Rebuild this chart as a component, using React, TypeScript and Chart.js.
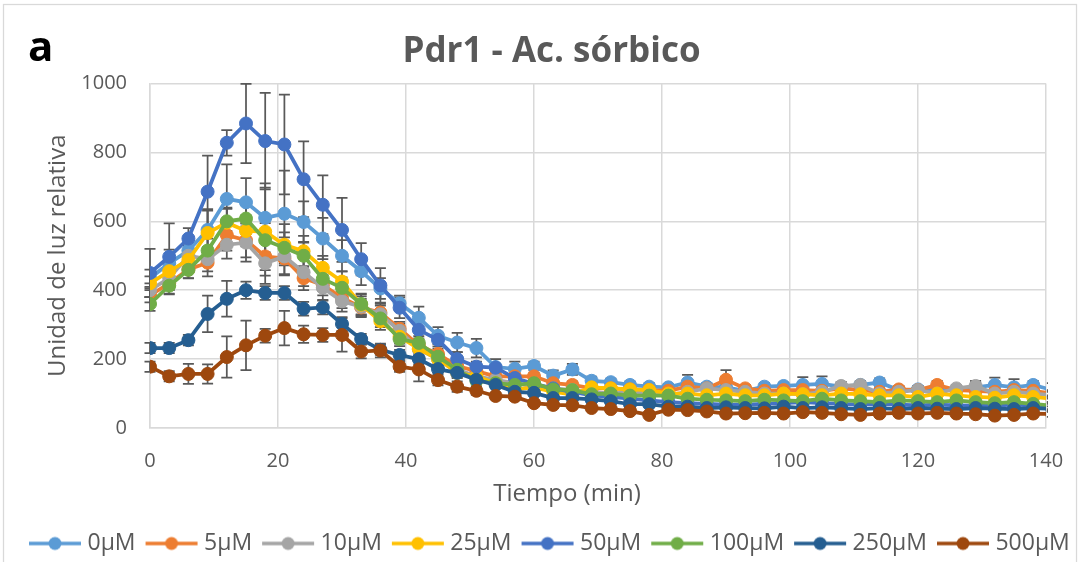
import React, { useEffect, useRef } from "react";
import { Chart, registerables } from "chart.js";

Chart.register(...registerables);

const FONT = "'Open Sans', 'Liberation Sans', sans-serif";
const TEXT = "#595959";
const GRID = "#D9D9D9";

const chartTitle = "Pdr1 - Ac. sórbico";
const panelLetter = "a";
const xTitle = "Tiempo (min)";
const yTitle = "Unidad de luz relativa";

const times = [0, 3, 6, 9, 12, 15, 18, 21, 24, 27, 30, 33, 36, 39, 42, 45, 48, 51, 54, 57, 60, 63, 66, 69, 72, 75, 78, 81, 84, 87, 90, 93, 96, 99, 102, 105, 108, 111, 114, 117, 120, 123, 126, 129, 132, 135, 138, 141];

const seriesLabels = ["0µM", "5µM", "10µM", "25µM", "50µM", "100µM", "250µM", "500µM"];
const seriesColors = ["#5B9BD5", "#ED7D31", "#A5A5A5", "#FFC000", "#4472C4", "#70AD47", "#255E91", "#9E480E"];

const v0 = [435, 478, 515, 575, 665, 655, 610, 622, 598, 550, 500, 455, 405, 362, 320, 268, 248, 232, 177, 172, 180, 152, 170, 137, 133, 125, 120, 118, 132, 120, 118, 108, 120, 122, 125, 128, 120, 125, 132, 110, 112, 110, 110, 118, 125, 118, 125, 110];
const e0 = [25, 40, 30, 60, 100, 70, 100, 125, 60, 60, 45, 40, 30, 22, 32, 25, 28, 27, 23, 21, 13, 15, 16, 12, 10, 10, 10, 10, 22, 10, 10, 10, 10, 10, 23, 22, 10, 10, 12, 10, 10, 10, 10, 15, 21, 24, 12, 20];

const v5 = [385, 420, 460, 480, 560, 545, 498, 492, 435, 415, 378, 350, 335, 288, 240, 215, 180, 165, 150, 150, 150, 130, 125, 115, 115, 112, 110, 108, 120, 115, 140, 115, 108, 110, 110, 108, 115, 110, 105, 112, 110, 125, 110, 108, 105, 110, 108, 100];
const e5 = [20, 30, 25, 40, 45, 50, 40, 45, 35, 30, 30, 25, 25, 20, 20, 15, 15, 12, 12, 10, 10, 10, 10, 10, 10, 10, 10, 10, 10, 10, 28, 10, 10, 10, 10, 10, 10, 10, 10, 10, 10, 12, 10, 10, 10, 10, 10, 10];

const v10 = [400, 435, 500, 490, 532, 538, 478, 498, 452, 407, 368, 352, 330, 282, 228, 200, 170, 150, 140, 130, 120, 115, 110, 105, 100, 105, 100, 95, 105, 115, 110, 105, 100, 100, 98, 105, 122, 125, 100, 105, 110, 100, 115, 122, 100, 105, 100, 95];
const e10 = [20, 30, 30, 35, 40, 55, 60, 55, 40, 35, 30, 30, 25, 20, 20, 15, 15, 12, 12, 10, 10, 10, 10, 10, 10, 10, 10, 10, 10, 10, 10, 10, 10, 10, 10, 10, 12, 12, 10, 10, 10, 10, 10, 15, 10, 10, 10, 10];

const v25 = [420, 455, 488, 566, 596, 572, 570, 532, 513, 465, 425, 358, 310, 265, 230, 200, 160, 150, 130, 112, 118, 105, 98, 118, 115, 112, 110, 100, 100, 95, 100, 95, 95, 100, 98, 95, 100, 98, 95, 95, 90, 100, 95, 90, 88, 95, 90, 85];
const e25 = [20, 30, 25, 65, 40, 45, 128, 60, 45, 35, 30, 30, 25, 20, 20, 15, 15, 12, 12, 10, 10, 10, 10, 10, 10, 10, 10, 10, 10, 10, 10, 10, 10, 10, 10, 10, 10, 10, 10, 10, 10, 10, 10, 10, 10, 10, 10, 10];

const v50 = [450, 497, 550, 686, 828, 884, 833, 823, 722, 648, 575, 490, 414, 349, 285, 256, 200, 178, 175, 145, 128, 115, 105, 95, 90, 85, 80, 75, 72, 70, 68, 68, 70, 72, 75, 72, 70, 68, 70, 68, 66, 68, 66, 65, 65, 68, 65, 60];
const e50 = [70, 97, 30, 105, 37, 115, 140, 145, 110, 85, 93, 47, 50, 30, 30, 20, 20, 15, 12, 10, 10, 10, 10, 10, 10, 10, 10, 10, 10, 10, 10, 10, 10, 10, 10, 10, 10, 10, 10, 10, 10, 10, 10, 10, 10, 10, 10, 10];

const v100 = [360, 413, 459, 515, 600, 608, 545, 523, 500, 433, 407, 360, 318, 258, 247, 207, 169, 137, 130, 125, 130, 112, 110, 98, 100, 94, 94, 94, 85, 82, 80, 78, 82, 80, 78, 85, 80, 78, 75, 80, 78, 75, 80, 75, 72, 75, 70, 65];
const e100 = [20, 25, 25, 35, 40, 45, 50, 45, 40, 35, 30, 30, 25, 20, 20, 15, 15, 12, 12, 10, 10, 10, 10, 10, 10, 10, 10, 10, 10, 10, 10, 10, 10, 10, 10, 10, 10, 10, 10, 10, 10, 10, 10, 10, 10, 10, 10, 10];

const v250 = [232, 232, 255, 331, 375, 400, 392, 392, 346, 350, 302, 258, 227, 212, 200, 171, 160, 140, 125, 105, 102, 87, 87, 83, 78, 69, 69, 62, 62, 58, 60, 58, 57, 62, 58, 60, 58, 55, 58, 55, 58, 56, 55, 58, 56, 55, 58, 55];
const e250 = [15, 15, 15, 53, 52, 25, 20, 20, 20, 20, 20, 15, 15, 15, 15, 12, 12, 10, 10, 10, 8, 8, 8, 8, 8, 8, 8, 8, 8, 8, 8, 8, 8, 8, 8, 8, 8, 8, 8, 8, 8, 8, 8, 8, 8, 8, 8, 8];

const v500 = [178, 150, 157, 157, 206, 240, 268, 290, 272, 270, 270, 222, 225, 178, 170, 139, 120, 108, 93, 91, 72, 67, 66, 58, 55, 49, 38, 53, 52, 48, 42, 43, 44, 42, 46, 44, 40, 38, 42, 44, 42, 44, 42, 40, 36, 38, 42, 40];
const e500 = [15, 15, 29, 28, 60, 72, 20, 50, 25, 20, 48, 20, 20, 15, 35, 15, 15, 12, 10, 10, 8, 8, 8, 8, 8, 8, 8, 8, 8, 8, 8, 8, 8, 8, 8, 8, 8, 8, 8, 8, 8, 8, 8, 8, 8, 8, 8, 8];

const seriesValues = [v0, v5, v10, v25, v50, v100, v250, v500];
const seriesErrors = [e0, e5, e10, e25, e50, e100, e250, e500];

const xTicks = { min: 0, max: 140, step: 20 };
const yTicks = { min: 0, max: 1000, step: 200 };

// legend geometry: box width W, image width W + 12 with a 54px line at its right end
const LEGEND_PAD = 4;
const LEGEND_BOX = 53;
const LEGEND_IMG = LEGEND_BOX + 12;
const LEGEND_LINE = 54;

function makeLegendImage(color: string): HTMLCanvasElement {
  const c = document.createElement("canvas");
  c.width = LEGEND_IMG;
  c.height = 16;
  const ctx = c.getContext("2d") as CanvasRenderingContext2D;
  const x0 = LEGEND_IMG - LEGEND_LINE;
  ctx.strokeStyle = color;
  ctx.lineWidth = 3.5;
  ctx.beginPath();
  ctx.moveTo(x0 + 1, 8);
  ctx.lineTo(LEGEND_IMG - 1, 8);
  ctx.stroke();
  ctx.fillStyle = color;
  ctx.beginPath();
  ctx.arc(x0 + LEGEND_LINE / 2, 8, 6.5, 0, Math.PI * 2);
  ctx.fill();
  return c;
}

const errorBarPlugin = {
  id: "errorBars",
  beforeDatasetsDraw(chart: any) {
    const { ctx, chartArea, scales } = chart;
    const xs = scales.x;
    const ys = scales.y;
    ctx.save();
    ctx.beginPath();
    ctx.rect(chartArea.left - 8, chartArea.top - 2, chartArea.right - chartArea.left + 10, chartArea.bottom - chartArea.top + 4);
    ctx.clip();
    ctx.strokeStyle = "#595959";
    ctx.lineWidth = 1.75;
    seriesValues.forEach((vals, s) => {
      const errs = seriesErrors[s];
      times.forEach((t, i) => {
        const x = xs.getPixelForValue(t);
        const y1 = ys.getPixelForValue(vals[i] + errs[i]);
        const y2 = ys.getPixelForValue(Math.max(0, vals[i] - errs[i]));
        ctx.beginPath();
        ctx.moveTo(x, y1);
        ctx.lineTo(x, y2);
        ctx.moveTo(x - 5.5, y1);
        ctx.lineTo(x + 5.5, y1);
        ctx.moveTo(x - 5.5, y2);
        ctx.lineTo(x + 5.5, y2);
        ctx.stroke();
      });
    });
    ctx.restore();
  },
};

const decorPlugin = {
  id: "decor",
  beforeDraw(chart: any) {
    const { ctx } = chart;
    ctx.save();
    ctx.fillStyle = "#FFFFFF";
    ctx.fillRect(0, 0, chart.width, chart.height);
    ctx.strokeStyle = GRID;
    ctx.lineWidth = 1.25;
    ctx.strokeRect(3.5, 4.5, 1073, 620);
    ctx.restore();
  },
  afterDraw(chart: any) {
    const { ctx } = chart;
    ctx.save();
    ctx.fillStyle = TEXT;
    ctx.font = `bold 35px ${FONT}`;
    ctx.textAlign = "center";
    ctx.textBaseline = "alphabetic";
    ctx.fillText(chartTitle, 551.5, 62);
    ctx.fillStyle = "#000000";
    ctx.font = `bold 42px ${FONT}`;
    ctx.textAlign = "left";
    ctx.fillText(panelLetter, 28, 61);
    ctx.fillStyle = TEXT;
    ctx.font = `24px ${FONT}`;
    ctx.textAlign = "center";
    ctx.textBaseline = "middle";
    ctx.fillText(xTitle, 567, 494);
    ctx.restore();
  },
};

export default function App() {
  const ref = useRef<HTMLCanvasElement | null>(null);

  useEffect(() => {
    if (!ref.current) return;
    const images = seriesColors.map((c) => makeLegendImage(c));
    const chart = new Chart(ref.current, {
      type: "line",
      data: {
        datasets: seriesLabels.map((label, i) => ({
          label,
          data: times.map((t, j) => ({ x: t, y: seriesValues[i][j] })),
          borderColor: seriesColors[i],
          backgroundColor: seriesColors[i],
          pointBackgroundColor: seriesColors[i],
          pointBorderColor: seriesColors[i],
          borderWidth: 3.75,
          pointRadius: 6.5,
          pointBorderWidth: 1,
          pointHoverRadius: 6.5,
          tension: 0,
          order: seriesLabels.length - 1 - i,
        })),
      },
      options: {
        responsive: false,
        maintainAspectRatio: false,
        animation: false,
        devicePixelRatio: 1,
        events: [],
        layout: { padding: { left: 19, right: 0, top: 83.5, bottom: -3 } },
        plugins: {
          title: { display: false },
          tooltip: { enabled: false },
          legend: {
            position: "bottom",
            align: "start",
            labels: {
              usePointStyle: true,
              pointStyleWidth: LEGEND_BOX,
              padding: LEGEND_PAD,
              color: TEXT,
              font: { family: FONT, size: 23 },
              generateLabels: (c: any) =>
                c.data.datasets.map((ds: any, i: number) => ({
                  text: ds.label,
                  fillStyle: seriesColors[i],
                  strokeStyle: seriesColors[i],
                  lineWidth: 0,
                  pointStyle: images[i],
                  hidden: false,
                  datasetIndex: i,
                  fontColor: TEXT,
                })),
            },
          },
        },
        scales: {
          x: {
            type: "linear",
            min: xTicks.min,
            max: xTicks.max,
            ticks: {
              stepSize: xTicks.step,
              padding: 21,
              color: TEXT,
              font: { family: FONT, size: 20 },
              maxRotation: 0,
              autoSkip: false,
              callback: (v: any) => String(v),
            },
            grid: { color: GRID, lineWidth: 1.5, drawTicks: false },
            border: { color: GRID, width: 1.5 },
            afterFit: (s: any) => {
              s.height = 100;
              s.paddingRight = 33;
            },
          },
          y: {
            type: "linear",
            min: yTicks.min,
            max: yTicks.max,
            ticks: {
              stepSize: yTicks.step,
              padding: 23,
              color: TEXT,
              font: { family: FONT, size: 20 },
              callback: (v: any) => String(v),
            },
            grid: { color: GRID, lineWidth: 1.5, drawTicks: false },
            border: { color: GRID, width: 1.5 },
            title: {
              display: true,
              text: yTitle,
              color: TEXT,
              font: { family: FONT, size: 24 },
              padding: { top: 25, bottom: 0 },
            },
            afterFit: (s: any) => {
              s.width = 131;
            },
          },
        },
      },
      plugins: [errorBarPlugin, decorPlugin],
    } as any);
    return () => chart.destroy();
  }, []);

  return (
    <div style={{ position: "fixed", left: 0, top: 0, width: 1079, height: 562, overflow: "hidden", background: "#fff" }}>
      <canvas ref={ref} width={1079} height={562} style={{ display: "block", width: 1079, height: 562 }} />
    </div>
  );
}
